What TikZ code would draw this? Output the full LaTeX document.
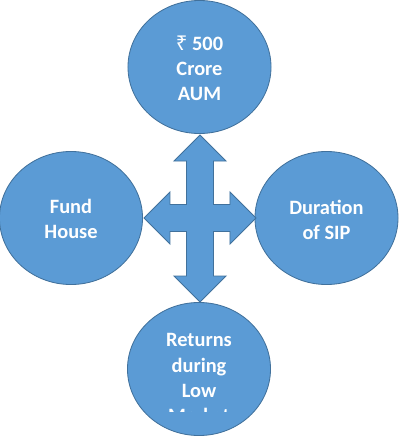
\documentclass[tikz,border=0pt]{standalone}
\usepackage{fontspec}
\setmainfont{Carlito}
\newfontfamily\rupeefont{Noto Sans}
\usetikzlibrary{shapes.geometric}

\definecolor{bubbleBlue}{HTML}{5B9BD5}
\definecolor{bubbleEdge}{HTML}{41719C}

\begin{document}
\begin{tikzpicture}[x = 0.025cm, y = -0.025cm,
						bubble/.style = {ellipse, draw = bubbleEdge, fill = bubbleBlue,
							line width = 0.6pt, minimum width = 3.575cm, minimum height = 3.325cm,
							inner sep = 0pt},
						bubble text/.style = {text = white, align = center,
							font = \fontsize{14.5}{17.8}\selectfont\bfseries},
						]
	
		% Fix the page to the size of the reference
		\useasboundingbox (0, 0) rectangle (400, 437);
		
		% Four circles
		\node[bubble] (aum) at (199.5, 67) {};
		\node[bubble] (fundHouse) at (71, 218) {};
		\node[bubble] (duration) at (326.5, 218) {};
		\node[bubble] (returns) at (199, 369) {};
		
		% Four-way arrow in the middle
		\draw[draw = bubbleEdge, fill = bubbleBlue, line width = 0.6pt, line join = miter]
			(200, 135) -- (226, 161) -- (213.5, 161) -- (213.5, 204.5)
			-- (230, 204.5) -- (230, 192) -- (256, 218) -- (230, 244) -- (230, 231.5)
			-- (213.5, 231.5) -- (213.5, 276) -- (226, 276) -- (200, 302) -- (174, 276)
			-- (186.5, 276) -- (186.5, 231.5) -- (170, 231.5) -- (170, 244) -- (144, 218)
			-- (170, 192) -- (170, 204.5) -- (186.5, 204.5) -- (186.5, 161) -- (174, 161)
			-- cycle;
		
		% Labels
		\node[bubble text] (aumText) at (199.5, 68) {{\rupeefont\bfseries ₹} 500\\Crore\\AUM};
		\node[bubble text] (fundHouseText) at (71, 218.5) {Fund\\House};
		\node[bubble text] (durationText) at (326.5, 219.5) {Duration\\of SIP};
		
		% Bottom label runs out of its text box
		\begin{scope}
			\clip (0, 0) rectangle (400, 411);
			\node[bubble text] (returnsText) at (199, 378) {Returns\\during\\Low\\Market};
		\end{scope}
		
	\end{tikzpicture}
\end{document}
